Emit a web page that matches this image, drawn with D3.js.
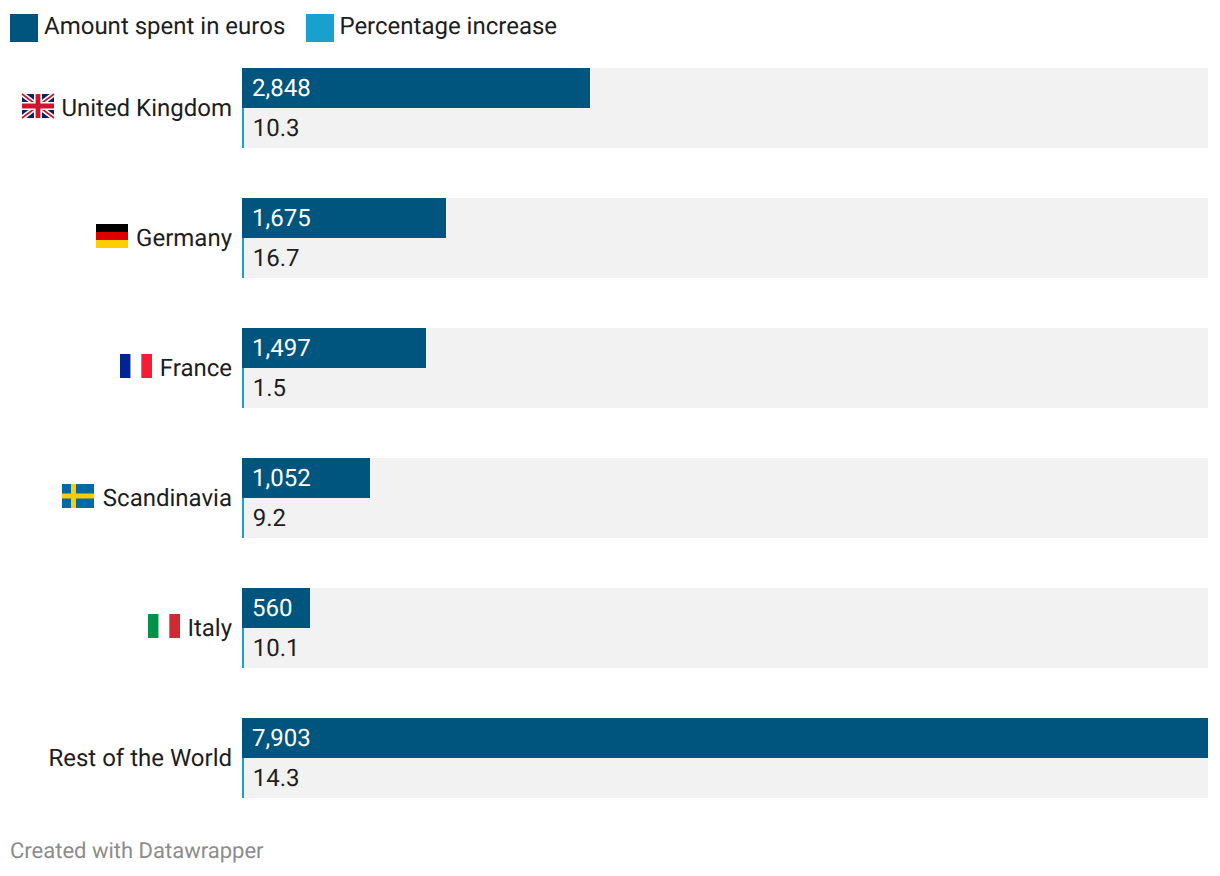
<!DOCTYPE html>
<html>
<head>
<meta charset="utf-8">
<script src="https://cdn.jsdelivr.net/npm/d3@7"></script>
<style>
html,body{margin:0;padding:0;background:#fff;overflow:hidden}
svg{display:block}
text{font-family:Roboto,sans-serif;text-rendering:geometricPrecision}
</style>
</head>
<body>
<svg id="chart" width="1220" height="876"></svg>
<script>
const categories = ["United Kingdom","Germany","France","Scandinavia","Italy","Rest of the World"];
const flagCodes = ["uk","de","fr","se","it",null];
const amountSpent = [2848,1675,1497,1052,560,7903];
const percentIncrease = [10.3,16.7,1.5,9.2,10.1,14.3];
const seriesNames = ["Amount spent in euros","Percentage increase"];
const footerText = "Created with Datawrapper";

const colors = {amount:"#00557f", pct:"#18a1cd", track:"#f2f2f2", text:"#1d1d1d", foot:"#8c8c8c"};
const fontSize = 24;

// the reference was laid out in CSS pixels at 2x: edges land on even device pixels
const snap = v => Math.round(v/2)*2;

const svg = d3.select("#chart");
const x = d3.scaleLinear().domain([0,7903]).range([242,1208.2]);
const y = d3.scaleBand().domain(categories).range([68,798]).paddingInner(50/130).paddingOuter(0);
const sub = d3.scaleBand().domain(seriesNames).range([0,y.bandwidth()]);
const fmtAmount = d3.format(",");
const fmtPct = d3.format(".1f");

// legend
const legendX = [10,306];
const legendTextX = [34,33.4];
const legend = svg.append("g").selectAll("g").data(seriesNames).join("g")
  .attr("transform",(d,i)=>`translate(${legendX[i]},14)`);
legend.append("rect").attr("width",28).attr("height",28)
  .attr("fill",(d,i)=>i===0?colors.amount:colors.pct);
legend.append("text").attr("x",(d,i)=>legendTextX[i]).attr("y",20).attr("font-size",fontSize)
  .attr("fill",colors.text).text(d=>d);

// flags drawn in a 32x24 box
const flags = {
  uk(g){
    g.append("rect").attr("width",32).attr("height",24).attr("fill","#012169");
    g.append("path").attr("d","M0 0L32 24M32 0L0 24").attr("stroke","#fff").attr("stroke-width",5);
    g.append("path").attr("d","M0 0L32 24M32 0L0 24").attr("stroke","#cf142b").attr("stroke-width",1.6);
    g.append("path").attr("d","M16 0V24M0 12H32").attr("stroke","#fff").attr("stroke-width",8);
    g.append("path").attr("d","M16 0V24M0 12H32").attr("stroke","#cf142b").attr("stroke-width",4.8);
  },
  de(g){
    ["#000","#dd0000","#ffce00"].forEach((c,i)=>g.append("rect").attr("y",i*8).attr("width",32).attr("height",8).attr("fill",c));
  },
  fr(g){
    ["#002395","#fff","#f71c36"].forEach((c,i)=>g.append("rect").attr("x",i*32/3).attr("width",32/3).attr("height",24).attr("fill",c));
  },
  se(g){
    g.append("rect").attr("width",32).attr("height",24).attr("fill","#006aa7");
    g.append("rect").attr("x",9).attr("width",5).attr("height",24).attr("fill","#fecc00");
    g.append("rect").attr("y",9.5).attr("width",32).attr("height",5).attr("fill","#fecc00");
  },
  it(g){
    ["#009246","#fff","#ce2b37"].forEach((c,i)=>g.append("rect").attr("x",i*32/3).attr("width",32/3).attr("height",24).attr("fill",c));
  }
};

// rows
const rows = svg.append("g").selectAll("g").data(categories).join("g")
  .attr("transform",d=>`translate(0,${y(d)})`);

rows.append("rect").attr("x",x(0)).attr("width",snap(x.range()[1]-x(0)))
  .attr("height",y.bandwidth()).attr("fill",colors.track);

rows.append("rect").attr("x",x(0)).attr("y",sub(seriesNames[0]))
  .attr("width",(d,i)=>snap(x(amountSpent[i])-x(0))).attr("height",sub.bandwidth())
  .attr("fill",colors.amount);

rows.append("rect").attr("x",x(0)).attr("y",sub(seriesNames[1]))
  .attr("width",(d,i)=>Math.max(2,snap(x(percentIncrease[i])-x(0)))).attr("height",sub.bandwidth())
  .attr("fill",colors.pct);

rows.append("text").attr("x",x(0)+10).attr("y",sub(seriesNames[0])+28)
  .attr("font-size",fontSize).attr("fill","#fff")
  .text((d,i)=>fmtAmount(amountSpent[i]));

rows.append("text").attr("x",x(0)+10.7).attr("y",sub(seriesNames[1])+28)
  .attr("font-size",fontSize).attr("fill",colors.text)
  .text((d,i)=>fmtPct(percentIncrease[i]));

rows.each(function(d,i){
  const row = d3.select(this);
  const label = row.append("text").attr("x",x(0)-10).attr("y",48)
    .attr("text-anchor","end").attr("font-size",fontSize).attr("fill",colors.text).text(d);
  const code = flagCodes[i];
  if(code){
    const w = label.node().getComputedTextLength();
    const left = snap(x(0)-10-w-8-32);
    const g = row.append("g").attr("transform",`translate(${left},26)`);
    flags[code](g);
  }
});

// footer
svg.append("text").attr("x",10).attr("y",858).attr("font-size",22)
  .attr("fill",colors.foot).text(footerText);
</script>
</body>
</html>
